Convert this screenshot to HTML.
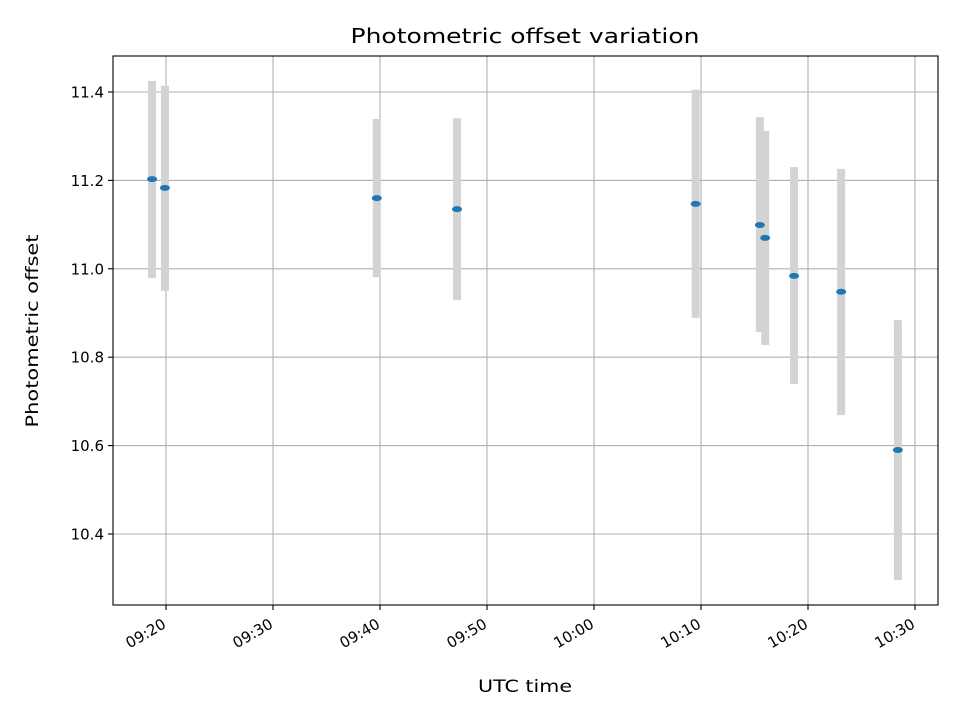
<!DOCTYPE html>
<html><head><meta charset="utf-8"><style>
html,body{margin:0;padding:0;background:#fff;}
svg{display:block;font-family:"DejaVu Sans","Liberation Sans",sans-serif;}
</style></head><body>
<svg id="chart" width="960" height="720" viewBox="0 0 960 720" xmlns="http://www.w3.org/2000/svg">
<rect x="0" y="0" width="960" height="720" fill="#fff"/>
<g id="grid"></g>
<g id="bars"></g>
<g id="points"></g>
<rect x="113" y="56" width="825" height="549" fill="none" stroke="#000" stroke-width="1.1"/>
<g id="ticks"></g>
<text x="525" y="43" font-size="20" text-anchor="middle" textLength="349" lengthAdjust="spacingAndGlyphs">Photometric offset variation</text>
<text x="525" y="692" font-size="16.5" text-anchor="middle" textLength="94" lengthAdjust="spacingAndGlyphs">UTC time</text>
<text x="38" y="331" font-size="16.5" text-anchor="middle" transform="rotate(-90 38 331)" textLength="193" lengthAdjust="spacingAndGlyphs">Photometric offset</text>
</svg>
<script>
// minutes after 09:00 UTC
const times = [18.7, 19.9, 39.7, 47.2, 69.5, 75.5, 76.0, 78.7, 83.1, 88.4];
const offsets = [11.203, 11.183, 11.160, 11.135, 11.147, 11.099, 11.070, 10.984, 10.948, 10.590];
const errHigh = [11.425, 11.414, 11.339, 11.341, 11.405, 11.343, 11.312, 11.230, 11.226, 10.884];
const errLow = [10.979, 10.950, 10.981, 10.929, 10.889, 10.857, 10.828, 10.739, 10.669, 10.296];
const yTicks = [10.4, 10.6, 10.8, 11.0, 11.2, 11.4];
const xTicks = [20, 30, 40, 50, 60, 70, 80, 90];
const xTickLabels = ["09:20", "09:30", "09:40", "09:50", "10:00", "10:10", "10:20", "10:30"];

const NS = "http://www.w3.org/2000/svg";
const L = 113, R = 938, T = 56, B = 605;
function xs(m) { return 166 + (m - 20) * 10.7; }
function ys(v) { return 92 + (11.4 - v) * 442; }
function mk(tag, attrs, parent) {
  const e = document.createElementNS(NS, tag);
  for (const k in attrs) e.setAttribute(k, attrs[k]);
  parent.appendChild(e);
  return e;
}
const grid = document.getElementById('grid');
const ticks = document.getElementById('ticks');
const bars = document.getElementById('bars');
const pts = document.getElementById('points');

yTicks.forEach(v => {
  const y = ys(v);
  const g = mk('line', {x1: L, x2: R, y1: y, y2: y, stroke: '#b0b0b0', 'stroke-width': 1.1}, grid);
  
  
  const t = mk('line', {x1: L - 5, x2: L, y1: y, y2: y, stroke: '#000', 'stroke-width': 1.1}, ticks);
  
  
  const lab = mk('text', {x: L - 9, y: y + 5.5, 'font-size': 15, 'text-anchor': 'end'}, ticks);
  lab.textContent = v.toFixed(1);
  
  
});
xTicks.forEach((m, i) => {
  const x = xs(m);
  const g = mk('line', {x1: x, x2: x, y1: T, y2: B, stroke: '#b0b0b0', 'stroke-width': 1.1}, grid);
  
  
  const t = mk('line', {x1: x, x2: x, y1: B, y2: B + 5, stroke: '#000', 'stroke-width': 1.1}, ticks);
  
  
  const ax = x + 1, ay = B + 22;
  const lab = mk('text', {x: ax, y: ay, 'font-size': 15, 'text-anchor': 'end', transform: `rotate(-30 ${ax} ${ay})`}, ticks);
  lab.textContent = xTickLabels[i];
  
  
});
times.forEach((m, i) => {
  const x = xs(m);
  const b = mk('line', {x1: x, x2: x, y1: ys(errHigh[i]), y2: ys(errLow[i]), stroke: '#d3d3d3', 'stroke-width': 8}, bars);
  
  
  const p = mk('ellipse', {cx: x, cy: ys(offsets[i]), rx: 5, ry: 3, fill: '#1f77b4'}, pts);
  
  
});
</script>
</body></html>
